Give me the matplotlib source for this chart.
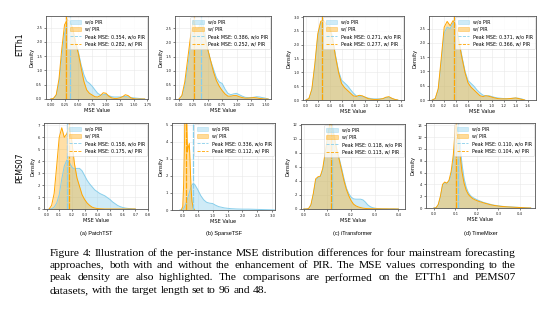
import matplotlib
matplotlib.use("Agg")
import matplotlib.pyplot as plt
from matplotlib.patches import Patch
from matplotlib.lines import Line2D
import numpy as np

# ---------------- data ----------------
MODELS = ["PatchTST", "SparseTSF", "iTransformer", "TimeMixer"]
PANEL_TAGS = ["(a)", "(b)", "(c)", "(d)"]
DATASETS = ["ETTh1", "PEMS07"]

# peak MSE values (w/o PIR, w/ PIR) per dataset/model
ETTH1_PEAK_WO = [0.354, 0.386, 0.271, 0.371]
ETTH1_PEAK_W = [0.282, 0.252, 0.277, 0.366]
PEMS07_PEAK_WO = [0.158, 0.336, 0.118, 0.110]
PEMS07_PEAK_W = [0.175, 0.112, 0.113, 0.104]

# density curves: ETTh1
ETTH1_PATCHTST_X = [0.0, 0.05, 0.1, 0.15, 0.2, 0.25, 0.3, 0.35, 0.4, 0.45, 0.5, 0.55, 0.6, 0.65, 0.7, 0.75, 0.8,
                    0.85, 0.9, 0.95, 1.0, 1.05, 1.1, 1.15, 1.2, 1.25, 1.3, 1.35, 1.4, 1.45, 1.5, 1.55, 1.6, 1.65, 1.7]
ETTH1_PATCHTST_WO = [0.0, 0.02, 0.12, 0.55, 1.45, 2.3, 2.62, 2.7, 2.45, 2.0, 1.65, 1.2, 0.85, 0.62, 0.55, 0.45, 0.32,
                     0.2, 0.14, 0.15, 0.16, 0.12, 0.08, 0.07, 0.07, 0.07, 0.08, 0.09, 0.07, 0.05, 0.04, 0.03, 0.02, 0.01, 0.0]
ETTH1_PATCHTST_W = [0.0, 0.02, 0.15, 0.7, 1.75, 2.6, 2.78, 2.72, 2.45, 1.95, 1.6, 1.1, 0.62, 0.32, 0.2, 0.14, 0.08,
                    0.07, 0.12, 0.22, 0.2, 0.1, 0.04, 0.02, 0.02, 0.04, 0.08, 0.15, 0.12, 0.04, 0.01, 0.0, 0.0, 0.0, 0.0]

ETTH1_SPARSETSF_X = [0.0, 0.05, 0.1, 0.15, 0.2, 0.25, 0.3, 0.35, 0.4, 0.45, 0.5, 0.55, 0.6, 0.65, 0.7, 0.75, 0.8,
                     0.85, 0.9, 0.95, 1.0, 1.05, 1.1, 1.15, 1.2, 1.25, 1.3, 1.35, 1.4, 1.45, 1.5, 1.55]
ETTH1_SPARSETSF_WO = [0.0, 0.1, 0.45, 1.1, 1.9, 2.5, 2.45, 2.55, 2.78, 2.35, 1.75, 1.35, 1.05, 0.75, 0.6, 0.55, 0.35,
                      0.2, 0.15, 0.18, 0.2, 0.15, 0.1, 0.06, 0.05, 0.05, 0.06, 0.08, 0.07, 0.05, 0.03, 0.0]
ETTH1_SPARSETSF_W = [0.0, 0.12, 0.6, 1.4, 2.2, 2.78, 2.45, 2.5, 2.55, 2.15, 1.75, 1.35, 0.95, 0.65, 0.45, 0.3, 0.18,
                     0.1, 0.1, 0.12, 0.12, 0.08, 0.05, 0.03, 0.03, 0.04, 0.05, 0.04, 0.02, 0.01, 0.0, 0.0]

ETTH1_ITRANSFORMER_X = [0.0, 0.05, 0.1, 0.15, 0.2, 0.25, 0.3, 0.35, 0.4, 0.45, 0.5, 0.55, 0.6, 0.65, 0.7, 0.75, 0.8,
                        0.85, 0.9, 0.95, 1.0, 1.05, 1.1, 1.15, 1.2, 1.25, 1.3, 1.35, 1.4, 1.45, 1.5, 1.55]
ETTH1_ITRANSFORMER_WO = [0.0, 0.05, 0.35, 1.2, 2.3, 2.8, 2.75, 2.65, 2.7, 2.25, 1.6, 1.05, 0.72, 0.62, 0.52, 0.38, 0.25,
                         0.15, 0.13, 0.14, 0.1, 0.07, 0.05, 0.04, 0.04, 0.04, 0.05, 0.08, 0.1, 0.06, 0.02, 0.0]
ETTH1_ITRANSFORMER_W = [0.0, 0.05, 0.4, 1.3, 2.4, 2.85, 2.88, 2.7, 2.6, 2.2, 1.55, 1.0, 0.6, 0.45, 0.35, 0.25, 0.15,
                        0.13, 0.17, 0.15, 0.1, 0.05, 0.03, 0.02, 0.02, 0.03, 0.05, 0.1, 0.12, 0.06, 0.02, 0.0]

ETTH1_TIMEMIXER_X = [0.0, 0.05, 0.1, 0.15, 0.2, 0.25, 0.3, 0.35, 0.4, 0.45, 0.5, 0.55, 0.6, 0.65, 0.7, 0.75, 0.8,
                     0.85, 0.9, 0.95, 1.0, 1.05, 1.1, 1.15, 1.2, 1.25, 1.3, 1.35, 1.4, 1.45, 1.5, 1.55]
ETTH1_TIMEMIXER_WO = [0.0, 0.05, 0.35, 1.3, 2.35, 2.55, 2.5, 2.7, 2.65, 2.05, 1.5, 1.0, 0.68, 0.58, 0.48, 0.35, 0.25,
                      0.17, 0.14, 0.15, 0.12, 0.09, 0.07, 0.06, 0.05, 0.05, 0.05, 0.06, 0.07, 0.06, 0.04, 0.0]
ETTH1_TIMEMIXER_W = [0.0, 0.05, 0.4, 1.45, 2.55, 2.75, 2.6, 2.78, 2.6, 2.0, 1.45, 0.95, 0.6, 0.45, 0.35, 0.25, 0.15,
                     0.12, 0.15, 0.13, 0.1, 0.07, 0.05, 0.04, 0.04, 0.04, 0.05, 0.06, 0.07, 0.05, 0.02, 0.0]

# density curves: PEMS07
PEMS07_PATCHTST_X = [0.02, 0.04, 0.06, 0.08, 0.1, 0.12, 0.14, 0.16, 0.18, 0.2, 0.22, 0.24, 0.26, 0.28, 0.3, 0.32,
                     0.34, 0.36, 0.38, 0.4, 0.42, 0.44, 0.46, 0.48, 0.5, 0.52, 0.54, 0.56, 0.58, 0.6, 0.62, 0.64,
                     0.66, 0.68, 0.7]
PEMS07_PATCHTST_WO = [0.0, 0.02, 0.15, 0.5, 1.2, 2.5, 3.6, 4.1, 3.9, 3.5, 3.35, 3.4, 3.4, 3.2, 2.8, 2.4,
                      2.1, 1.85, 1.6, 1.45, 1.3, 1.2, 1.1, 0.95, 0.8, 0.6, 0.45, 0.3, 0.2, 0.13, 0.08, 0.05,
                      0.03, 0.01, 0.0]
PEMS07_PATCHTST_W = [0.0, 0.3, 1.3, 3.6, 6.0, 6.8, 6.0, 6.3, 6.9, 5.6, 3.8, 2.6, 1.9, 1.2, 0.8, 0.5,
                     0.3, 0.15, 0.08, 0.04, 0.02, 0.01, 0.0, 0.0, 0.0, 0.0, 0.0, 0.0, 0.0, 0.0, 0.0, 0.0,
                     0.0, 0.0, 0.0]

PEMS07_SPARSETSF_X_WO = [-0.1, 0.0, 0.05, 0.1, 0.15, 0.2, 0.25, 0.3, 0.35, 0.4, 0.5, 0.6, 0.7, 0.8, 0.9, 1.0, 1.1,
                         1.2, 1.4, 1.6, 1.8, 2.0, 2.2, 2.4, 2.6, 2.8, 3.0, 3.1]
PEMS07_SPARSETSF_WO = [0.0, 0.05, 0.15, 0.35, 0.6, 0.9, 1.2, 1.45, 1.55, 1.5, 1.2, 0.85, 0.6, 0.45, 0.4, 0.38, 0.28,
                       0.2, 0.12, 0.08, 0.06, 0.05, 0.05, 0.04, 0.03, 0.02, 0.01, 0.0]
PEMS07_SPARSETSF_X_W = [-0.05, 0.0, 0.03, 0.06, 0.085, 0.11, 0.135, 0.16, 0.19, 0.22, 0.25, 0.28, 0.31, 0.35, 0.4]
PEMS07_SPARSETSF_W = [0.0, 0.2, 1.5, 4.0, 7.5, 8.5, 5.0, 3.4, 3.7, 3.9, 2.6, 1.2, 0.5, 0.12, 0.0]

PEMS07_ITRANSFORMER_X = [0.0, 0.01, 0.02, 0.03, 0.04, 0.05, 0.06, 0.07, 0.08, 0.09, 0.1, 0.11, 0.12, 0.13, 0.14,
                         0.15, 0.16, 0.17, 0.18, 0.19, 0.2, 0.21, 0.22, 0.23, 0.24, 0.25, 0.26, 0.27, 0.28, 0.29,
                         0.3, 0.31, 0.32, 0.33, 0.34, 0.35, 0.36, 0.37, 0.38, 0.39, 0.4]
PEMS07_ITRANSFORMER_WO = [0.0, 0.0, 0.05, 0.5, 2.0, 4.0, 4.5, 4.6, 5.5, 7.5, 9.8, 11.8, 12.0, 10.2, 8.5,
                          7.2, 5.8, 4.3, 3.0, 2.2, 1.7, 1.45, 1.4, 1.4, 1.4, 1.3, 1.0, 0.6, 0.35, 0.2,
                          0.12, 0.07, 0.05, 0.04, 0.03, 0.02, 0.02, 0.02, 0.02, 0.01, 0.0]
PEMS07_ITRANSFORMER_W = [0.0, 0.0, 0.05, 0.6, 2.2, 4.3, 4.6, 4.7, 5.8, 8.0, 10.3, 12.2, 11.8, 10.0, 8.3,
                         7.0, 5.5, 4.0, 2.8, 1.9, 1.2, 0.7, 0.45, 0.3, 0.2, 0.12, 0.08, 0.06, 0.05, 0.04,
                         0.04, 0.03, 0.03, 0.02, 0.02, 0.02, 0.01, 0.01, 0.01, 0.0, 0.0]

PEMS07_TIMEMIXER_X = [0.0, 0.01, 0.02, 0.03, 0.04, 0.05, 0.06, 0.07, 0.08, 0.09, 0.1, 0.11, 0.12, 0.13, 0.14, 0.15,
                      0.16, 0.17, 0.18, 0.19, 0.2, 0.21, 0.22, 0.23, 0.24, 0.25, 0.26, 0.27, 0.28, 0.29, 0.3,
                      0.31, 0.32, 0.33, 0.34, 0.35, 0.36, 0.37, 0.38, 0.39, 0.4, 0.41, 0.42, 0.43, 0.44, 0.45]
PEMS07_TIMEMIXER_WO = [0.0, 0.05, 0.5, 1.8, 3.8, 4.3, 4.2, 4.5, 5.6, 7.8, 11.5, 13.9, 11.5, 7.5, 5.0, 3.5,
                       2.6, 2.1, 1.8, 1.6, 1.4, 1.25, 1.1, 0.95, 0.85, 0.75, 0.65, 0.55, 0.48, 0.42, 0.37,
                       0.32, 0.28, 0.24, 0.21, 0.19, 0.17, 0.15, 0.13, 0.11, 0.09, 0.07, 0.05, 0.03, 0.01, 0.0]
PEMS07_TIMEMIXER_W = [0.0, 0.05, 0.6, 2.0, 4.0, 4.4, 4.2, 4.7, 6.2, 9.0, 14.0, 12.5, 9.5, 6.2, 4.2, 3.0,
                      2.3, 1.9, 1.6, 1.4, 1.25, 1.1, 1.0, 0.88, 0.78, 0.68, 0.58, 0.5, 0.43, 0.38, 0.33,
                      0.28, 0.25, 0.22, 0.19, 0.17, 0.15, 0.13, 0.11, 0.1, 0.08, 0.06, 0.04, 0.02, 0.01, 0.0]

CAPTION_LINES = [
    "Figure 4: Illustration of the per-instance MSE distribution differences for four mainstream forecasting",
    "approaches, both with and without the enhancement of PIR. The MSE values corresponding to the",
    "peak density are also highlighted.  The comparisons are performed on the ETTh1 and PEMS07",
    "datasets, with the target length set to 96 and 48.",
]

# ---------------- layout / style ----------------
W_PX, H_PX = 556, 326
DPI = 100
BLUE = "#87CEEB"
ORANGE = "#FFA500"
SANS = ["DejaVu Sans"]

fig = plt.figure(figsize=(W_PX / DPI, H_PX / DPI), dpi=DPI)
fig.patch.set_facecolor("white")


def px_axes(l, t, r, b):
    return fig.add_axes([l / W_PX, 1 - b / H_PX, (r - l) / W_PX, (b - t) / H_PX])


panels = [
    # (box l,t,r,b), xlim, ylim, xticks, yticks, tick formats, curves, peaks
    ((46, 16, 148, 99), (-0.085, 1.76), (0, 2.91), np.arange(0, 1.76, 0.25), np.arange(0, 2.6, 0.5), "{:.2f}", "{:.1f}",
     (ETTH1_PATCHTST_X, ETTH1_PATCHTST_WO), (ETTH1_PATCHTST_X, ETTH1_PATCHTST_W), ETTH1_PEAK_WO[0], ETTH1_PEAK_W[0]),
    ((175, 16, 271, 99), (-0.07, 1.6), (0, 2.93), np.arange(0, 1.51, 0.25), np.arange(0, 2.6, 0.5), "{:.2f}", "{:.1f}",
     (ETTH1_SPARSETSF_X, ETTH1_SPARSETSF_WO), (ETTH1_SPARSETSF_X, ETTH1_SPARSETSF_W), ETTH1_PEAK_WO[1], ETTH1_PEAK_W[1]),
    ((303, 16, 404, 100), (-0.05, 1.655), (0, 3.04), np.arange(0, 1.61, 0.2), np.arange(0, 3.1, 0.5), "{:.1f}", "{:.1f}",
     (ETTH1_ITRANSFORMER_X, ETTH1_ITRANSFORMER_WO), (ETTH1_ITRANSFORMER_X, ETTH1_ITRANSFORMER_W), ETTH1_PEAK_WO[2], ETTH1_PEAK_W[2]),
    ((429, 16, 536, 100), (-0.055, 1.74), (0, 2.94), np.arange(0, 1.61, 0.2), np.arange(0, 2.6, 0.5), "{:.1f}", "{:.1f}",
     (ETTH1_TIMEMIXER_X, ETTH1_TIMEMIXER_WO), (ETTH1_TIMEMIXER_X, ETTH1_TIMEMIXER_W), ETTH1_PEAK_WO[3], ETTH1_PEAK_W[3]),
    ((44, 123, 148, 209), (-0.02, 0.8), (0, 7.2), np.arange(0, 0.81, 0.1), np.arange(0, 7.1, 1), "{:.1f}", "{:.0f}",
     (PEMS07_PATCHTST_X, PEMS07_PATCHTST_WO), (PEMS07_PATCHTST_X, PEMS07_PATCHTST_W), PEMS07_PEAK_WO[0], PEMS07_PEAK_W[0]),
    ((172, 123, 275, 210), (-0.36, 3.09), (0, 5.1), np.arange(0, 3.01, 0.5), np.arange(0, 5.1, 1), "{:.1f}", "{:.0f}",
     (PEMS07_SPARSETSF_X_WO, PEMS07_SPARSETSF_WO), (PEMS07_SPARSETSF_X_W, PEMS07_SPARSETSF_W), PEMS07_PEAK_WO[1], PEMS07_PEAK_W[1]),
    ((301, 124, 405, 209), (-0.012, 0.428), (0, 12.14), np.arange(0, 0.41, 0.1), np.arange(0, 12.1, 2), "{:.1f}", "{:.0f}",
     (PEMS07_ITRANSFORMER_X, PEMS07_ITRANSFORMER_WO), (PEMS07_ITRANSFORMER_X, PEMS07_ITRANSFORMER_W), PEMS07_PEAK_WO[2], PEMS07_PEAK_W[2]),
    ((426, 123, 535, 208), (-0.037, 0.47), (0, 14.4), np.arange(0, 0.41, 0.1), np.arange(0, 14.1, 2), "{:.1f}", "{:.0f}",
     (PEMS07_TIMEMIXER_X, PEMS07_TIMEMIXER_WO), (PEMS07_TIMEMIXER_X, PEMS07_TIMEMIXER_W), PEMS07_PEAK_WO[3], PEMS07_PEAK_W[3]),
]

axes = []
for (box, xlim, ylim, xt, yt, xfmt, yfmt, wo, w, pk_wo, pk_w) in panels:
    ax = px_axes(*box)
    axes.append(ax)
    ax.set_axisbelow(True)
    ax.grid(True, color="#e8e8e8", linewidth=0.4)
    # without PIR first, with PIR on top
    ax.fill_between(wo[0], wo[1], color=BLUE, alpha=0.4, linewidth=0)
    ax.plot(wo[0], wo[1], color=BLUE, linewidth=0.7)
    ax.fill_between(w[0], w[1], color=ORANGE, alpha=0.35, linewidth=0)
    ax.plot(w[0], w[1], color=ORANGE, linewidth=0.7)
    ax.axvline(pk_wo, color=BLUE, linestyle=(0, (5, 0.8)), linewidth=0.9)
    ax.axvline(pk_w, color=ORANGE, linestyle=(0, (5, 0.8)), linewidth=0.9)
    ax.set_xlim(*xlim)
    ax.set_ylim(*ylim)
    ax.set_xticks(xt)
    ax.set_xticklabels([xfmt.format(v) for v in xt])
    ax.set_yticks(yt)
    ax.set_yticklabels([yfmt.format(v) for v in yt])
    ax.tick_params(labelsize=2.7, length=1.5, width=0.4, pad=1.2, colors="#222222")
    for s in ax.spines.values():
        s.set_color("#555555")
        s.set_linewidth(0.6)
    ax.set_xlabel("MSE Value", fontsize=3.6, labelpad=1.0, family=SANS)
    ax.set_ylabel("Density", fontsize=3.6, labelpad=1.5, family=SANS)
    handles = [
        Patch(facecolor=BLUE, alpha=0.4, edgecolor=BLUE, linewidth=0.6),
        Patch(facecolor=ORANGE, alpha=0.4, edgecolor=ORANGE, linewidth=0.6),
        Line2D([], [], color=BLUE, linestyle="--", linewidth=0.6),
        Line2D([], [], color=ORANGE, linestyle="--", linewidth=0.6),
    ]
    labels = ["w/o PIR", "w/ PIR", f"Peak MSE: {pk_wo:.3f}, w/o PIR", f"Peak MSE: {pk_w:.3f}, w/ PIR"]
    leg = ax.legend(handles, labels, loc="upper right", fontsize=3.4, frameon=True,
                    borderpad=0.45, labelspacing=0.5, handlelength=2.4, handleheight=0.9,
                    handletextpad=0.8, borderaxespad=0.25, fancybox=True)
    leg.get_frame().set_linewidth(0.4)
    leg.get_frame().set_edgecolor("#cccccc")

# row labels
fig.text(20 / W_PX, 1 - 44 / H_PX, DATASETS[0], rotation=90, fontsize=5.5, ha="center", va="center", family=SANS)
fig.text(20 / W_PX, 1 - 168 / H_PX, DATASETS[1], rotation=90, fontsize=5.5, ha="center", va="center", family=SANS)

# panel captions
for i, ax in enumerate(axes[4:]):
    pos = ax.get_position()
    fig.text((pos.x0 + pos.x1) / 2, 1 - 233 / H_PX, f"{PANEL_TAGS[i]} {MODELS[i]}",
             fontsize=4.0, ha="center", va="center", family=["Liberation Sans"])

# figure caption, justified like the paper text
CAP_X0, CAP_X1 = 50, 516
CAP_Y = [253, 265.5, 278, 290.5]
SERIF = ["Liberation Serif"]
fig.canvas.draw()
renderer = fig.canvas.get_renderer()

# pick the font size so the first line just fills the text width
probe = fig.text(0, 0, CAPTION_LINES[0], fontsize=10, family=SERIF)
probe_w = probe.get_window_extent(renderer).width
probe.remove()
cap_fs = 10 * (CAP_X1 - CAP_X0) / probe_w * 1.005

for k, line in enumerate(CAPTION_LINES):
    y = 1 - CAP_Y[k] / H_PX
    words = line.split()
    texts = [fig.text(0, y, wd, fontsize=cap_fs, family=SERIF, va="center", ha="left") for wd in words]
    widths = [t.get_window_extent(renderer).width for t in texts]
    if k < len(CAPTION_LINES) - 1:
        gap = (CAP_X1 - CAP_X0 - sum(widths)) / (len(words) - 1)
    else:
        gap = cap_fs * DPI / 72 * 0.25
    x = CAP_X0
    for t, wdt in zip(texts, widths):
        t.set_x(x / W_PX)
        x += wdt + gap

fig.savefig("out.png", dpi=DPI, facecolor="white")
